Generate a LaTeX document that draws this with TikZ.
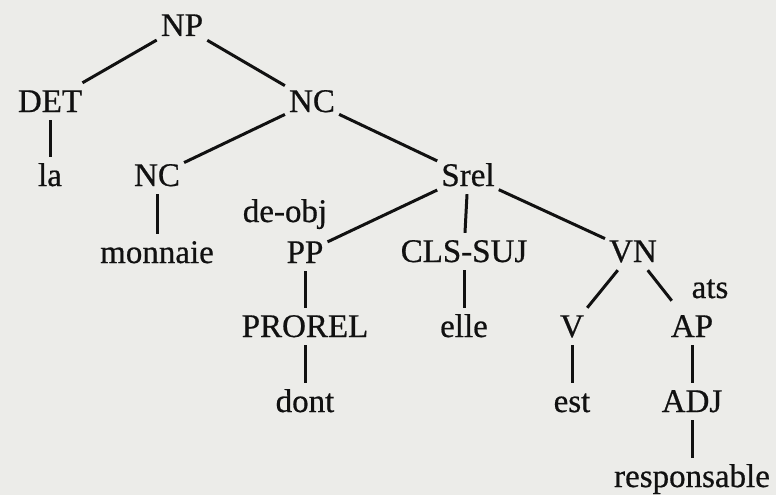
\documentclass[tikz,border=0pt]{standalone}
\usepackage{fontspec}
\setmainfont[FakeBold=0.6]{Liberation Serif}
\definecolor{bgcol}{RGB}{236,236,233}
\definecolor{ink}{RGB}{17,17,17}
\begin{document}
\begin{tikzpicture}[x=1pt,y=-1pt,
  tn/.style={anchor=base,inner xsep=4pt,inner ysep=7pt,text height=22pt,text depth=1pt,text=ink,font=\fontsize{33}{36}\selectfont},
  lbl/.style={anchor=base,inner sep=0pt,text=ink,font=\fontsize{33}{36}\selectfont},
  edge/.style={line width=3pt,draw=ink}]
\fill[bgcol] (0,0) rectangle (776,495);
\useasboundingbox (0,0) rectangle (776,495);
\node[tn] (NP) at (182,36) {NP};
\node[tn] (DET) at (50,112) {DET};
\node[tn] (NCa) at (312,112) {NC};
\node[tn] (la) at (50,186) {la};
\node[tn] (NCb) at (157,186) {NC};
\node[tn] (Srel) at (468,186) {Srel};
\node[lbl] (deobj) at (285,222) {de-obj};
\node[tn] (monnaie) at (157,263) {monnaie};
\node[tn] (PP) at (305,263) {PP};
\node[tn] (CLS) at (464,262) {CLS-SUJ};
\node[tn] (VN) at (633,262) {VN};
\node[lbl] (ats) at (710,298) {ats};
\node[tn] (PROREL) at (305,337) {PROREL};
\node[tn] (elle) at (464,337) {elle};
\node[tn] (V) at (572,337) {V};
\node[tn] (AP) at (692,337) {AP};
\node[tn] (dont) at (305,412) {dont};
\node[tn] (est) at (572,412) {est};
\node[tn] (ADJ) at (692,412) {ADJ};
\node[tn] (resp) at (692,487) {responsable};
\draw[edge] (NP) -- (DET);
\draw[edge] (NP) -- (NCa);
\draw[edge] (DET) -- (la);
\draw[edge] (NCa) -- (NCb);
\draw[edge] (NCa) -- (Srel);
\draw[edge] (NCb) -- (monnaie);
\draw[edge] (Srel) -- (PP);
\draw[edge] (Srel) -- (CLS);
\draw[edge] (Srel) -- (VN);
\draw[edge] (PP) -- (PROREL);
\draw[edge] (PROREL) -- (dont);
\draw[edge] (CLS) -- (elle);
\draw[edge] (VN) -- (V);
\draw[edge,shorten >=9pt] (VN) -- (AP);
\draw[edge] (V) -- (est);
\draw[edge] (AP) -- (ADJ);
\draw[edge] (ADJ) -- (resp);
\end{tikzpicture}
\end{document}
